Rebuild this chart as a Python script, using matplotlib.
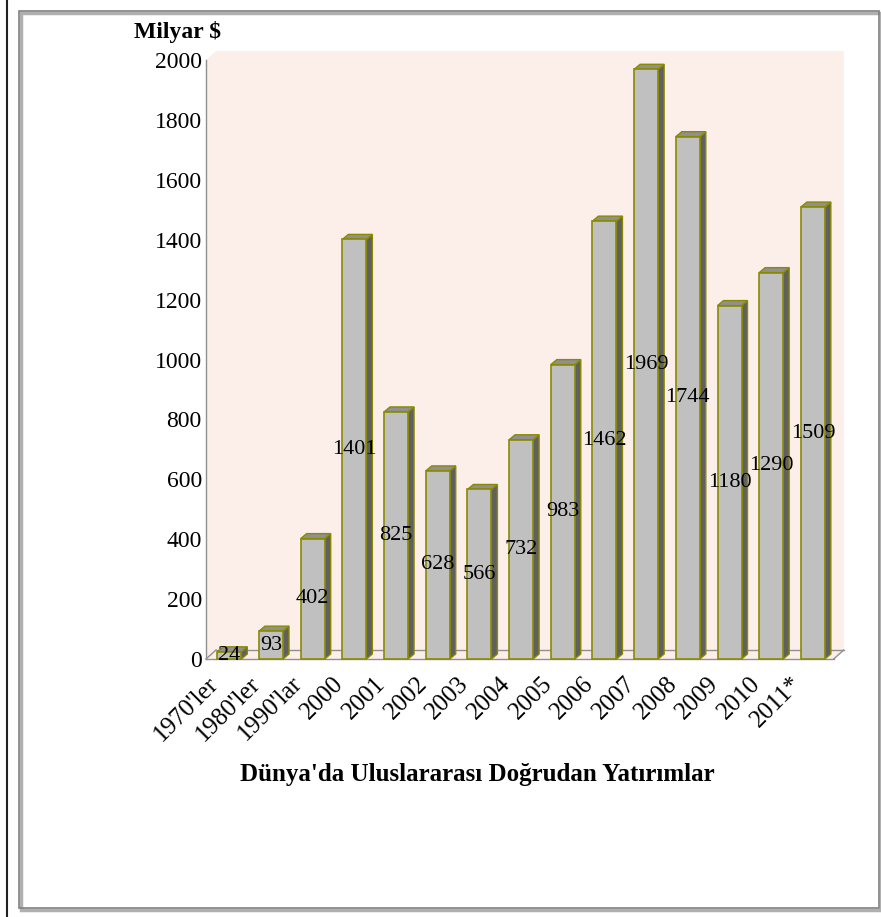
import matplotlib
matplotlib.use("Agg")
import matplotlib.pyplot as plt
from matplotlib.patches import Polygon, Rectangle
from matplotlib.transforms import ScaledTranslation
import numpy as np

plt.rcParams['font.family'] = ['Liberation Serif', 'DejaVu Serif']

categories = ["1970'ler", "1980'ler", "1990'lar", "2000", "2001", "2002", "2003",
              "2004", "2005", "2006", "2007", "2008", "2009", "2010", "2011*"]
values = [24, 93, 402, 1401, 825, 628, 566, 732, 983, 1462, 1969, 1744, 1180, 1290, 1509]
yticks = [0, 200, 400, 600, 800, 1000, 1200, 1400, 1600, 1800, 2000]

W, H = 881, 917
fig = plt.figure(figsize=(W / 100, H / 100), dpi=100)

# outer frame
fig.add_artist(plt.Line2D([7 / W, 7 / W], [0, 1], color='#222222', lw=1.5))
fig.add_artist(Rectangle((21 / W, 1 - 910 / H), 860 / W, 897 / H, fill=False,
                         edgecolor='#b0b0b0', lw=2.5, transform=fig.transFigure))
fig.add_artist(Rectangle((19 / W, 1 - 908 / H), 860 / W, 897 / H, fill=False,
                         edgecolor='#808080', lw=1.2, transform=fig.transFigure))

left, top, bottom = 206, 60, 659
xmin, xmax = -0.56, 14.5
unit = 41.68
right = left + (xmax - xmin) * unit
ax = fig.add_axes([left / W, 1 - bottom / H, (right - left) / W, (bottom - top) / H])
ax.set_xlim(xmin, xmax)
ax.set_ylim(0, 2000)
for s in ax.spines.values():
    s.set_visible(False)
ax.patch.set_visible(False)

ppy = (bottom - top) / 2000.0
dx = 10 / unit
dy = 9 / ppy
wall = '#fcefea'
ax.add_patch(Polygon([(xmin, 0), (xmin, 2000), (xmin + dx, 2000 + dy), (xmax + dx, 2000 + dy),
                      (xmax + dx, dy), (xmax, 0)], closed=True, facecolor=wall,
                     edgecolor='none', clip_on=False, zorder=0))
# floor and axis lines
ax.plot([xmin, xmax], [0, 0], color='#909090', lw=1, clip_on=False, zorder=1)
ax.plot([xmin + dx, xmax + dx], [dy, dy], color='#909090', lw=1, clip_on=False, zorder=1)
ax.plot([xmin, xmin + dx], [0, dy], color='#909090', lw=1, clip_on=False, zorder=1)
ax.plot([xmax, xmax + dx], [0, dy], color='#909090', lw=1, clip_on=False, zorder=1)
ax.plot([xmin, xmin], [0, 2000], color='#909090', lw=1, clip_on=False, zorder=1)

bw = 24 / unit
bdx = 6 / unit
bdy = 5 / ppy
edge = '#8a8a00'
x = np.arange(len(values))
for xi, v in zip(x, values):
    x0, x1 = xi - bw / 2, xi + bw / 2
    ax.add_patch(Polygon([(x1, 0), (x1 + bdx, bdy), (x1 + bdx, v + bdy), (x1, v)],
                         closed=True, facecolor='#606060', edgecolor=edge, lw=1,
                         clip_on=False, zorder=2))
    ax.add_patch(Polygon([(x0, v), (x0 + bdx, v + bdy), (x1 + bdx, v + bdy), (x1, v)],
                         closed=True, facecolor='#909090', edgecolor=edge, lw=1,
                         clip_on=False, zorder=2))
    ax.add_patch(Rectangle((x0, 0), bw, v, facecolor='#c0c0c0', edgecolor=edge, lw=1.2,
                           clip_on=False, zorder=3))
    ax.text(xi, v / 2, str(v), ha='center', va='center', fontsize=16, zorder=4)

ax.set_yticks(yticks)
ax.set_yticklabels([str(t) for t in yticks], fontsize=17)
ax.tick_params(axis='y', length=0, pad=3)
ax.set_xticks(x)
ax.set_xticklabels(categories, rotation=45, ha='right', va='top',
                   rotation_mode='anchor', fontsize=18)
ax.tick_params(axis='x', length=0, pad=6)
shift = ScaledTranslation(-0.22, -0.05, fig.dpi_scale_trans)
for lab in ax.get_xticklabels():
    lab.set_transform(lab.get_transform() + shift)

fig.text(177 / W, 1 - 32 / H, 'Milyar $', ha='center', va='center',
         fontsize=17, fontweight='bold')
fig.text(477 / W, 1 - 775 / H, "Dünya'da Uluslararası Doğrudan Yatırımlar",
         ha='center', va='center', fontsize=18, fontweight='bold')

fig.savefig('out.png', dpi=100)
